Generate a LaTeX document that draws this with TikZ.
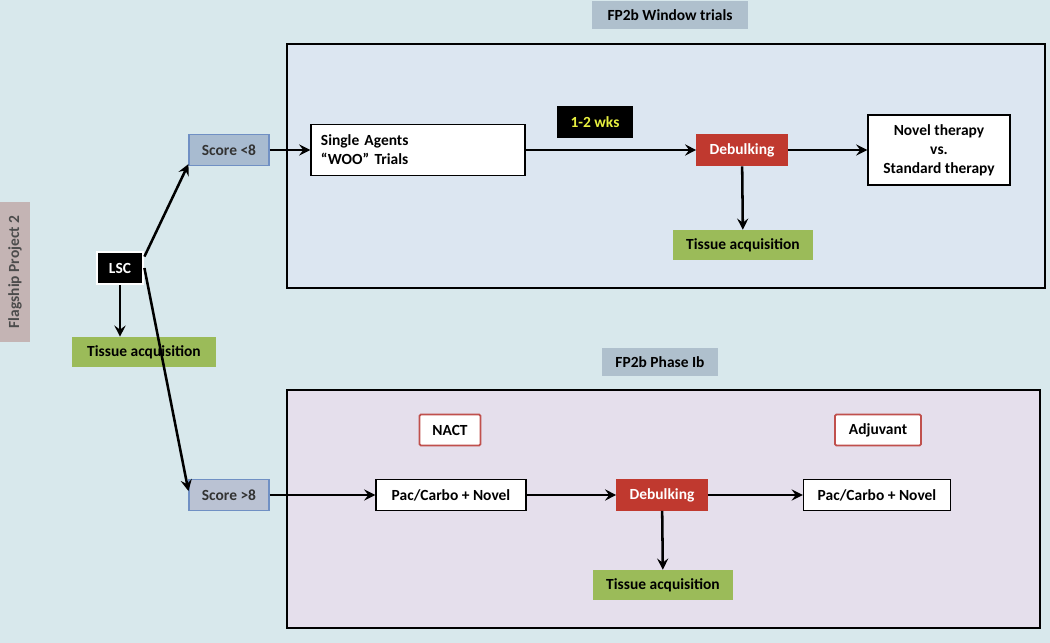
\documentclass[tikz,border=0pt]{standalone}
\usepackage{fontspec}
\setmainfont{Carlito}
\usetikzlibrary{arrows.meta}

\definecolor{bgcol}{HTML}{D8E8EC}
\definecolor{toppanel}{HTML}{DCE6F1}
\definecolor{botpanel}{HTML}{E5DFEC}
\definecolor{titlecol}{HTML}{AFC0CD}
\definecolor{flagcol}{HTML}{C4B4B4}
\definecolor{scoreA}{HTML}{A8BBD0}
\definecolor{scoreB}{HTML}{BAC2D3}
\definecolor{scoreline}{HTML}{7090C4}
\definecolor{debcol}{HTML}{C0392F}
\definecolor{tissuecol}{HTML}{9BBB59}
\definecolor{phaseline}{HTML}{C0504D}
\definecolor{wkscol}{HTML}{E8F040}

\begin{document}
\begin{tikzpicture}[x=0.025cm, y=-0.025cm,
    every node/.style={font=\bfseries\fontsize{11}{13.5}\selectfont, inner sep=2pt},
    box/.style={draw, line width=1pt, fill=white},
    score/.style={draw=scoreline, line width=0.8pt, text=black!80, minimum width=2cm, minimum height=0.775cm},
    debulk/.style={fill=debcol, text=white, minimum width=2.275cm, minimum height=0.8cm},
    tissue/.style={fill=tissuecol, minimum width=3.5cm, minimum height=0.75cm},
    phase/.style={draw=phaseline, line width=1.2pt, fill=white, rounded corners=1pt, minimum height=0.775cm},
    title/.style={fill=titlecol, minimum height=0.68cm},
    arr/.style={line width=1.8pt, -{Stealth[length=8pt, width=8pt, inset=3pt]}}]

            %background and panels
            \fill[bgcol] (0,0) rectangle (1050,643);
            \draw[line width=1pt, fill=toppanel] (287,44) rectangle (1045,288);
            \draw[line width=1pt, fill=botpanel] (287,390) rectangle (1040,628);

            %titles
            \node[title, minimum width=3.875cm] (wintitle) at (670,15) {FP2b Window trials};
            \node[title, minimum width=2.875cm] (phtitle) at (660,362) {FP2b Phase Ib};
            \node[fill=flagcol, rotate=90, minimum width=3.5cm, minimum height=0.75cm, text=black!70] (flag) at (15,272) {Flagship Project 2};

            %nodes
            \node[fill=black, text=white, draw=white, line width=2pt, minimum width=1.15cm, minimum height=0.8cm] (lsc) at (120,268) {LSC};
            \node[tissue, minimum width=3.575cm] (ta0) at (144,352) {Tissue acquisition};

            \node[score, fill=scoreA] (s1) at (229,150) {Score <8};
            \node[box, minimum width=5.35cm, minimum height=1.275cm, text width=4.85cm, inner xsep=0.25cm, align=left] (sa) at (418,150) {Single Agents\\``WOO'' Trials};
            \node[fill=black, text=wkscol, minimum width=1.875cm, minimum height=0.8cm] (wks) at (595,122) {1-2 wks};
            \node[debulk] (deb1) at (742,150) {Debulking};
            \node[box, minimum width=3.55cm, minimum height=1.75cm, align=center] (nov) at (939,150) {Novel therapy\\vs.\\Standard therapy};
            \node[tissue] (ta1) at (743,245) {Tissue acquisition};

            \node[score, fill=scoreB] (s2) at (229,495) {Score >8};
            \node[phase, minimum width=1.525cm] (nact) at (450,430) {NACT};
            \node[phase, minimum width=2.15cm] (adj) at (878,430) {Adjuvant};
            \node[box, minimum width=3.75cm, minimum height=0.775cm] (pc1) at (451,495) {Pac/Carbo + Novel};
            \node[debulk, minimum height=0.775cm] (deb2) at (662,495) {Debulking};
            \node[box, minimum width=3.675cm, minimum height=0.775cm] (pc2) at (877,495) {Pac/Carbo + Novel};
            \node[tissue] (ta2) at (663,585) {Tissue acquisition};

            %edges
            \draw[arr] ([yshift=-0.15cm]lsc.north east) -- ([yshift=0.05cm]s1.south west);
            \draw[arr] (lsc.east) -- ([yshift=0.1cm]s2.west);
            \draw[arr] (lsc.south) -- (ta0.north -| lsc.south);
            \draw[arr] (s1) -- (sa);
            \draw[arr] (sa) -- (deb1);
            \draw[arr] (deb1) -- (nov);
            \draw[arr] (deb1) -- (ta1);
            \draw[arr] (s2) -- (pc1);
            \draw[arr] (pc1) -- (deb2);
            \draw[arr] (deb2) -- (pc2);
            \draw[arr] (deb2) -- (ta2);
\end{tikzpicture}
\end{document}
